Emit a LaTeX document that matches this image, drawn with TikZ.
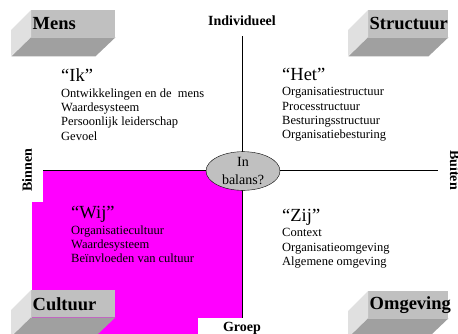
\documentclass[tikz,border=0pt]{standalone}
\usepackage{fontspec}
\setmainfont{Liberation Serif}
\usepackage{xcolor}
\usepackage{tikz}
\usetikzlibrary{positioning,shapes.geometric}
\definecolor{facefront}{HTML}{C0C0C0}
\definecolor{faceleft}{HTML}{E0E0E0}
\definecolor{facebottom}{HTML}{A0A0A0}
\definecolor{wijmagenta}{HTML}{FF00FF}
\tikzset{
	blockface/.style =
    {
			fill = facefront,
			anchor = north west,
			inner xsep = 1.5pt,
			inner ysep = 0pt,
			minimum height = 27pt,
			align = left,
			font = \fontsize{18.5}{20}\selectfont\bfseries
    },
	heading/.style =
    {
			anchor = base west,
			inner sep = 0pt,
			font = \fontsize{18.5}{20}\selectfont
    },
	listtext/.style =
    {
			inner sep = 0pt,
			align = left,
			font = \fontsize{12.5}{14.3}\selectfont
    }
}

\begin{document}
\begin{tikzpicture}[x=1pt, y=-1pt]
    \tikzset{axislabel/.style={fill=white, font=\fontsize{14}{16}\selectfont\bfseries}}
    \tikzset{balans/.style={ellipse, draw, fill=facefront, minimum width=74pt, minimum height=38pt, inner sep=0pt, align=center, font=\fontsize{14}{18}\selectfont}}
    \useasboundingbox (0,0) rectangle (458,333);

    % Quadrant
    \fill[wijmagenta] (32,170) rectangle (242,340);

    % Blocks
    \foreach \name/\x/\y/\w/\txt in {mens/31/10/84/Mens, structuur/368/10/80/Structuur, cultuur/31/290/84/Cultuur, omgeving/368/291/80/Omgeving}
    {
        \node[blockface, text width=\w pt - 3pt] (\name) at (\x,\y) {\txt};
        \fill[faceleft] (\name.north west) -- ++(-20,20) -- ++(0,26) -- (\name.south west) -- cycle;
        \fill[facebottom] (\name.south west) -- (\name.south east) -- ++(-20,19) -- ++(-\w,0) -- cycle;
    }

    % Axis labels
    \node[axislabel, inner sep=10pt] (individueel) at (242,21) {Individueel};
    \node[axislabel, inner sep=4pt, minimum width=88pt] (groep) at (242,328) {Groep};
    \node[axislabel, inner sep=11pt, rotate=90] (binnen) at (27,170) {Binnen};
    \node[axislabel, inner sep=12pt, rotate=-90] (buiten) at (455,170) {Buiten};

    % Axes
    \draw (individueel) -- (groep);
    \draw (binnen) -- (buiten);
    \node[balans] (inbalans) at (243,171) {In\\balans?};

    % Quadrant texts
    \node[heading] (ik) at (61,81) {“Ik”};
    \node[listtext, below right=7.5pt and 0pt of ik.base west] (iklist) {Ontwikkelingen en de\ \ mens\\Waardesysteem\\Persoonlijk leiderschap\\Gevoel};
    \node[heading] (het) at (282,80) {“Het”};
    \node[listtext, below right=7.5pt and 0pt of het.base west] (hetlist) {Organisatiestructuur\\Processtructuur\\Besturingsstructuur\\Organisatiebesturing};
    \node[heading] (wij) at (71,218) {“Wij”};
    \node[listtext, below right=7.5pt and 0pt of wij.base west] (wijlist) {Organisatiecultuur\\Waardesysteem\\Beïnvloeden van cultuur};
    \node[heading] (zij) at (282,221) {“Zij”};
    \node[listtext, below right=7.5pt and 0pt of zij.base west] (zijlist) {Context\\Organisatieomgeving\\Algemene omgeving};

\end{tikzpicture}
\end{document}
